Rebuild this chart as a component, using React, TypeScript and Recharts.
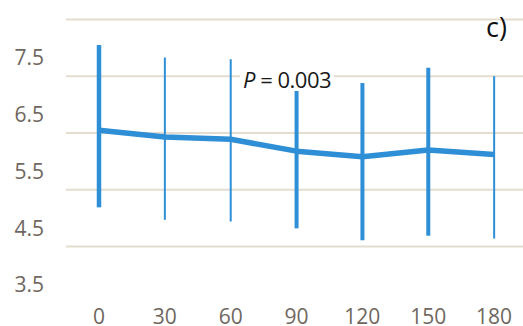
import React from "react";
import {
  ComposedChart,
  Line,
  Bar,
  XAxis,
  YAxis,
  CartesianGrid,
} from "recharts";

// Sampling times (min)
const times = [0, 30, 60, 90, 120, 150, 180];
// Mean values at each time
const means = [6.55, 6.43, 6.39, 6.18, 6.08, 6.2, 6.12];
// Upper and lower ends of the spread at each time
const upper = [8.05, 7.83, 7.8, 7.54, 7.38, 7.65, 7.5];
const lower = [5.19, 4.97, 4.94, 4.82, 4.61, 4.69, 4.64];

const yTicks = [3.5, 4.5, 5.5, 6.5, 7.5];
const gridValues = [4.5, 5.5, 6.5, 7.5, 8.5];

const data = times.map((t, i) => ({
  t: String(t),
  mean: means[i],
  range: [lower[i], upper[i]],
}));

const BLUE = "#2f8fd6";
const FONT = "'Open Sans', sans-serif";
const LABEL = "#6f6760";

// stroke thickness of each vertical whisker
const whiskerWidths = [4.5, 2, 2, 4, 4, 4, 2];

const Whisker = (props: any) => {
  const { x, y, width, height, index } = props;
  const w = whiskerWidths[index] ?? 3;
  const top = Math.min(y, y + height);
  const h = Math.abs(height);
  return <rect x={x + width / 2 - w / 2} y={top} width={w} height={h} fill={BLUE} />;
};

const YTick = (props: any) => {
  const { y, payload } = props;
  return (
    <text x={44} y={y - 11} textAnchor="end" fontFamily={FONT} fontSize={21} fill={LABEL}>
      {payload.value}
    </text>
  );
};

const XTick = (props: any) => {
  const { x, y, payload } = props;
  return (
    <text x={x} y={y + 21} textAnchor="middle" fontFamily={FONT} fontSize={21} fill={LABEL}>
      {payload.value}
    </text>
  );
};

export default function App() {
  return (
    <div
      style={{
        position: "fixed",
        left: 0,
        top: 0,
        width: 523,
        height: 326,
        overflow: "hidden",
        background: "#fff",
      }}
    >
      <ComposedChart
        width={540}
        height={326}
        data={data}
        margin={{ top: 19.5, right: 13, bottom: 0, left: 0 }}
      >
        <CartesianGrid
          vertical={false}
          horizontalValues={gridValues}
          stroke="#e3dccf"
          strokeWidth={2}
        />
        <XAxis
          dataKey="t"
          type="category"
          height={22.75}
          axisLine={false}
          tickLine={false}
          tickSize={0}
          tickMargin={0}
          interval={0}
          tick={<XTick />}
        />
        <YAxis
          type="number"
          domain={[3.5, 8.5]}
          ticks={yTicks}
          width={66}
          axisLine={false}
          tickLine={false}
          tickSize={0}
          tickMargin={0}
          interval={0}
          allowDataOverflow
          tick={<YTick />}
        />
        <Bar
          dataKey="range"
          barSize={6}
          shape={<Whisker />}
          isAnimationActive={false}
        />
        <Line
          type="linear"
          dataKey="mean"
          stroke={BLUE}
          strokeWidth={5.5}
          strokeLinejoin="round"
          dot={false}
          activeDot={false}
          isAnimationActive={false}
        />
      </ComposedChart>
      <div
        style={{
          position: "absolute",
          left: 240,
          top: 67,
          height: 24,
          padding: "0 3px",
          background: "#fff",
          fontFamily: FONT,
          fontSize: 22,
          lineHeight: "24px",
          color: "#1a1a1a",
          whiteSpace: "nowrap",
          letterSpacing: -0.5,
        }}
      >
        <i>P</i> = 0.003
      </div>
      <div
        style={{
          position: "absolute",
          left: 486,
          top: 13,
          fontFamily: FONT,
          fontSize: 27,
          lineHeight: "27px",
          color: "#111",
        }}
      >
        c)
      </div>
    </div>
  );
}
